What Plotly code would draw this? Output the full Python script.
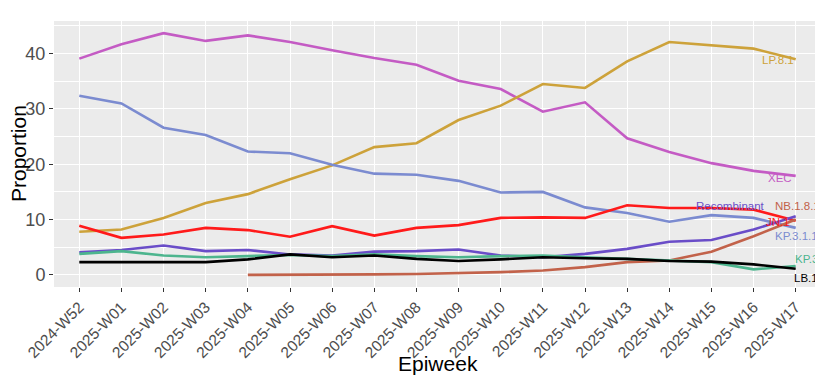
import plotly.graph_objects as go

weeks = ["2024-W52"] + [f"2025-W{i:02d}" for i in range(1, 18)]

xec = [39.1, 41.7, 43.7, 42.3, 43.3, 42.1, 40.6, 39.2, 38.0, 35.1, 33.6, 29.5, 31.2, 24.7, 22.2, 20.2, 18.8, 17.9]
lp81 = [7.8, 8.2, 10.3, 13.0, 14.6, 17.3, 19.8, 23.1, 23.8, 28.0, 30.6, 34.5, 33.8, 38.6, 42.1, 41.5, 40.9, 39.0]
kp311 = [32.4, 31.0, 26.6, 25.3, 22.3, 22.0, 19.9, 18.3, 18.1, 17.0, 14.9, 15.0, 12.2, 11.2, 9.6, 10.8, 10.3, 8.5]
jn1 = [8.9, 6.7, 7.3, 8.5, 8.1, 6.9, 8.8, 7.1, 8.5, 9.0, 10.3, 10.4, 10.3, 12.6, 12.1, 12.1, 11.8, 9.8]
recomb = [4.1, 4.5, 5.3, 4.3, 4.5, 3.7, 3.5, 4.2, 4.3, 4.6, 3.5, 3.2, 3.8, 4.7, 6.0, 6.3, 8.2, 10.6]
nb181_weeks = weeks[4:]
nb181 = [0.0, 0.0, 0.05, 0.1, 0.15, 0.3, 0.5, 0.8, 1.4, 2.3, 2.6, 4.2, 7.0, 10.0]
kp3 = [3.8, 4.3, 3.5, 3.2, 3.4, 3.6, 3.4, 3.7, 3.4, 3.2, 3.4, 3.5, 3.2, 2.9, 2.7, 2.3, 1.0, 1.6]
lb1 = [2.3, 2.3, 2.2, 2.3, 2.8, 3.7, 3.2, 3.5, 2.9, 2.5, 2.8, 3.2, 3.0, 2.9, 2.5, 2.4, 1.9, 1.1]

series = [
    ("XEC", weeks, xec, "#C45BC4"),
    ("LP.8.1", weeks, lp81, "#CDA23A"),
    ("KP.3.1.1", weeks, kp311, "#7B8BD0"),
    ("JN.1", weeks, jn1, "#FF1A1A"),
    ("Recombinant", weeks, recomb, "#6A4DC8"),
    ("NB.1.8.1", nb181_weeks, nb181, "#C2624A"),
    ("KP.3", weeks, kp3, "#4DB58E"),
    ("LB.1", weeks, lb1, "#000000"),
]

# label placement (x index, y value, anchor)
label_pos = {
    "LP.8.1": (17.0, 38.9, "right"),
    "XEC": (16.95, 17.6, "right"),
    "Recombinant": (16.31, 12.5, "right"),
    "NB.1.8.1": (16.45, 12.5, "left"),
    "JN.1": (16.92, 9.6, "right"),
    "KP.3.1.1": (16.45, 7.1, "left"),
    "KP.3": (16.93, 2.95, "left"),
    "LB.1": (16.91, -0.5, "left"),
}

fig = go.Figure()
for name, xs, ys, col in series:
    fig.add_trace(go.Scatter(x=xs, y=ys, mode="lines", name=name,
                             line=dict(color=col, width=2.6), showlegend=False))

for name, xs, ys, col in series:
    lx, ly, anc = label_pos[name]
    fig.add_annotation(x=lx, y=ly, xref="x", yref="y", text=name, showarrow=False,
                       xanchor=anc, yanchor="middle",
                       font=dict(color=col, size=11.5, family="Liberation Sans"))

# axis titles
fig.add_annotation(x=0.5, y=0, xref="paper", yref="paper", text="Epiweek", showarrow=False,
                   xanchor="center", yanchor="middle", yshift=-76,
                   font=dict(size=21, color="black", family="Liberation Sans"))
fig.add_annotation(x=0, y=0.5, xref="paper", yref="paper", text="Proportion", showarrow=False,
                   xanchor="center", yanchor="middle", xshift=-36, textangle=-90,
                   font=dict(size=21, color="black", family="Liberation Sans"))

# the page body adds an 8px offset, so the figure is 8px smaller and margins shifted
fig.update_layout(
    width=815, height=374,
    margin=dict(l=46, r=2, t=13, b=95),
    paper_bgcolor="white",
    plot_bgcolor="#EBEBEB",
    font=dict(family="Liberation Sans", color="#4D4D4D"),
    xaxis=dict(
        type="category", categoryorder="array", categoryarray=weeks,
        range=[-0.6, 17.6], showgrid=True, gridcolor="white", gridwidth=1.1,
        zeroline=False, ticks="outside", ticklen=4, tickcolor="#333333", tickwidth=1,
        tickangle=-45, tickfont=dict(size=15.5, color="#4D4D4D"),
        automargin=False, fixedrange=True,
    ),
    yaxis=dict(
        range=[-2.19, 45.9], tickvals=[0, 10, 20, 30, 40],
        showgrid=True, gridcolor="white", gridwidth=1.1, zeroline=False,
        ticks="outside", ticklen=4, tickcolor="#333333", tickwidth=1,
        tickfont=dict(size=18, color="#4D4D4D"),
        minor=dict(tickvals=[5, 15, 25, 35, 45], showgrid=True, gridcolor="white", gridwidth=0.5, ticks=""),
        automargin=False, fixedrange=True,
    ),
)

fig.write_html("out.html")
